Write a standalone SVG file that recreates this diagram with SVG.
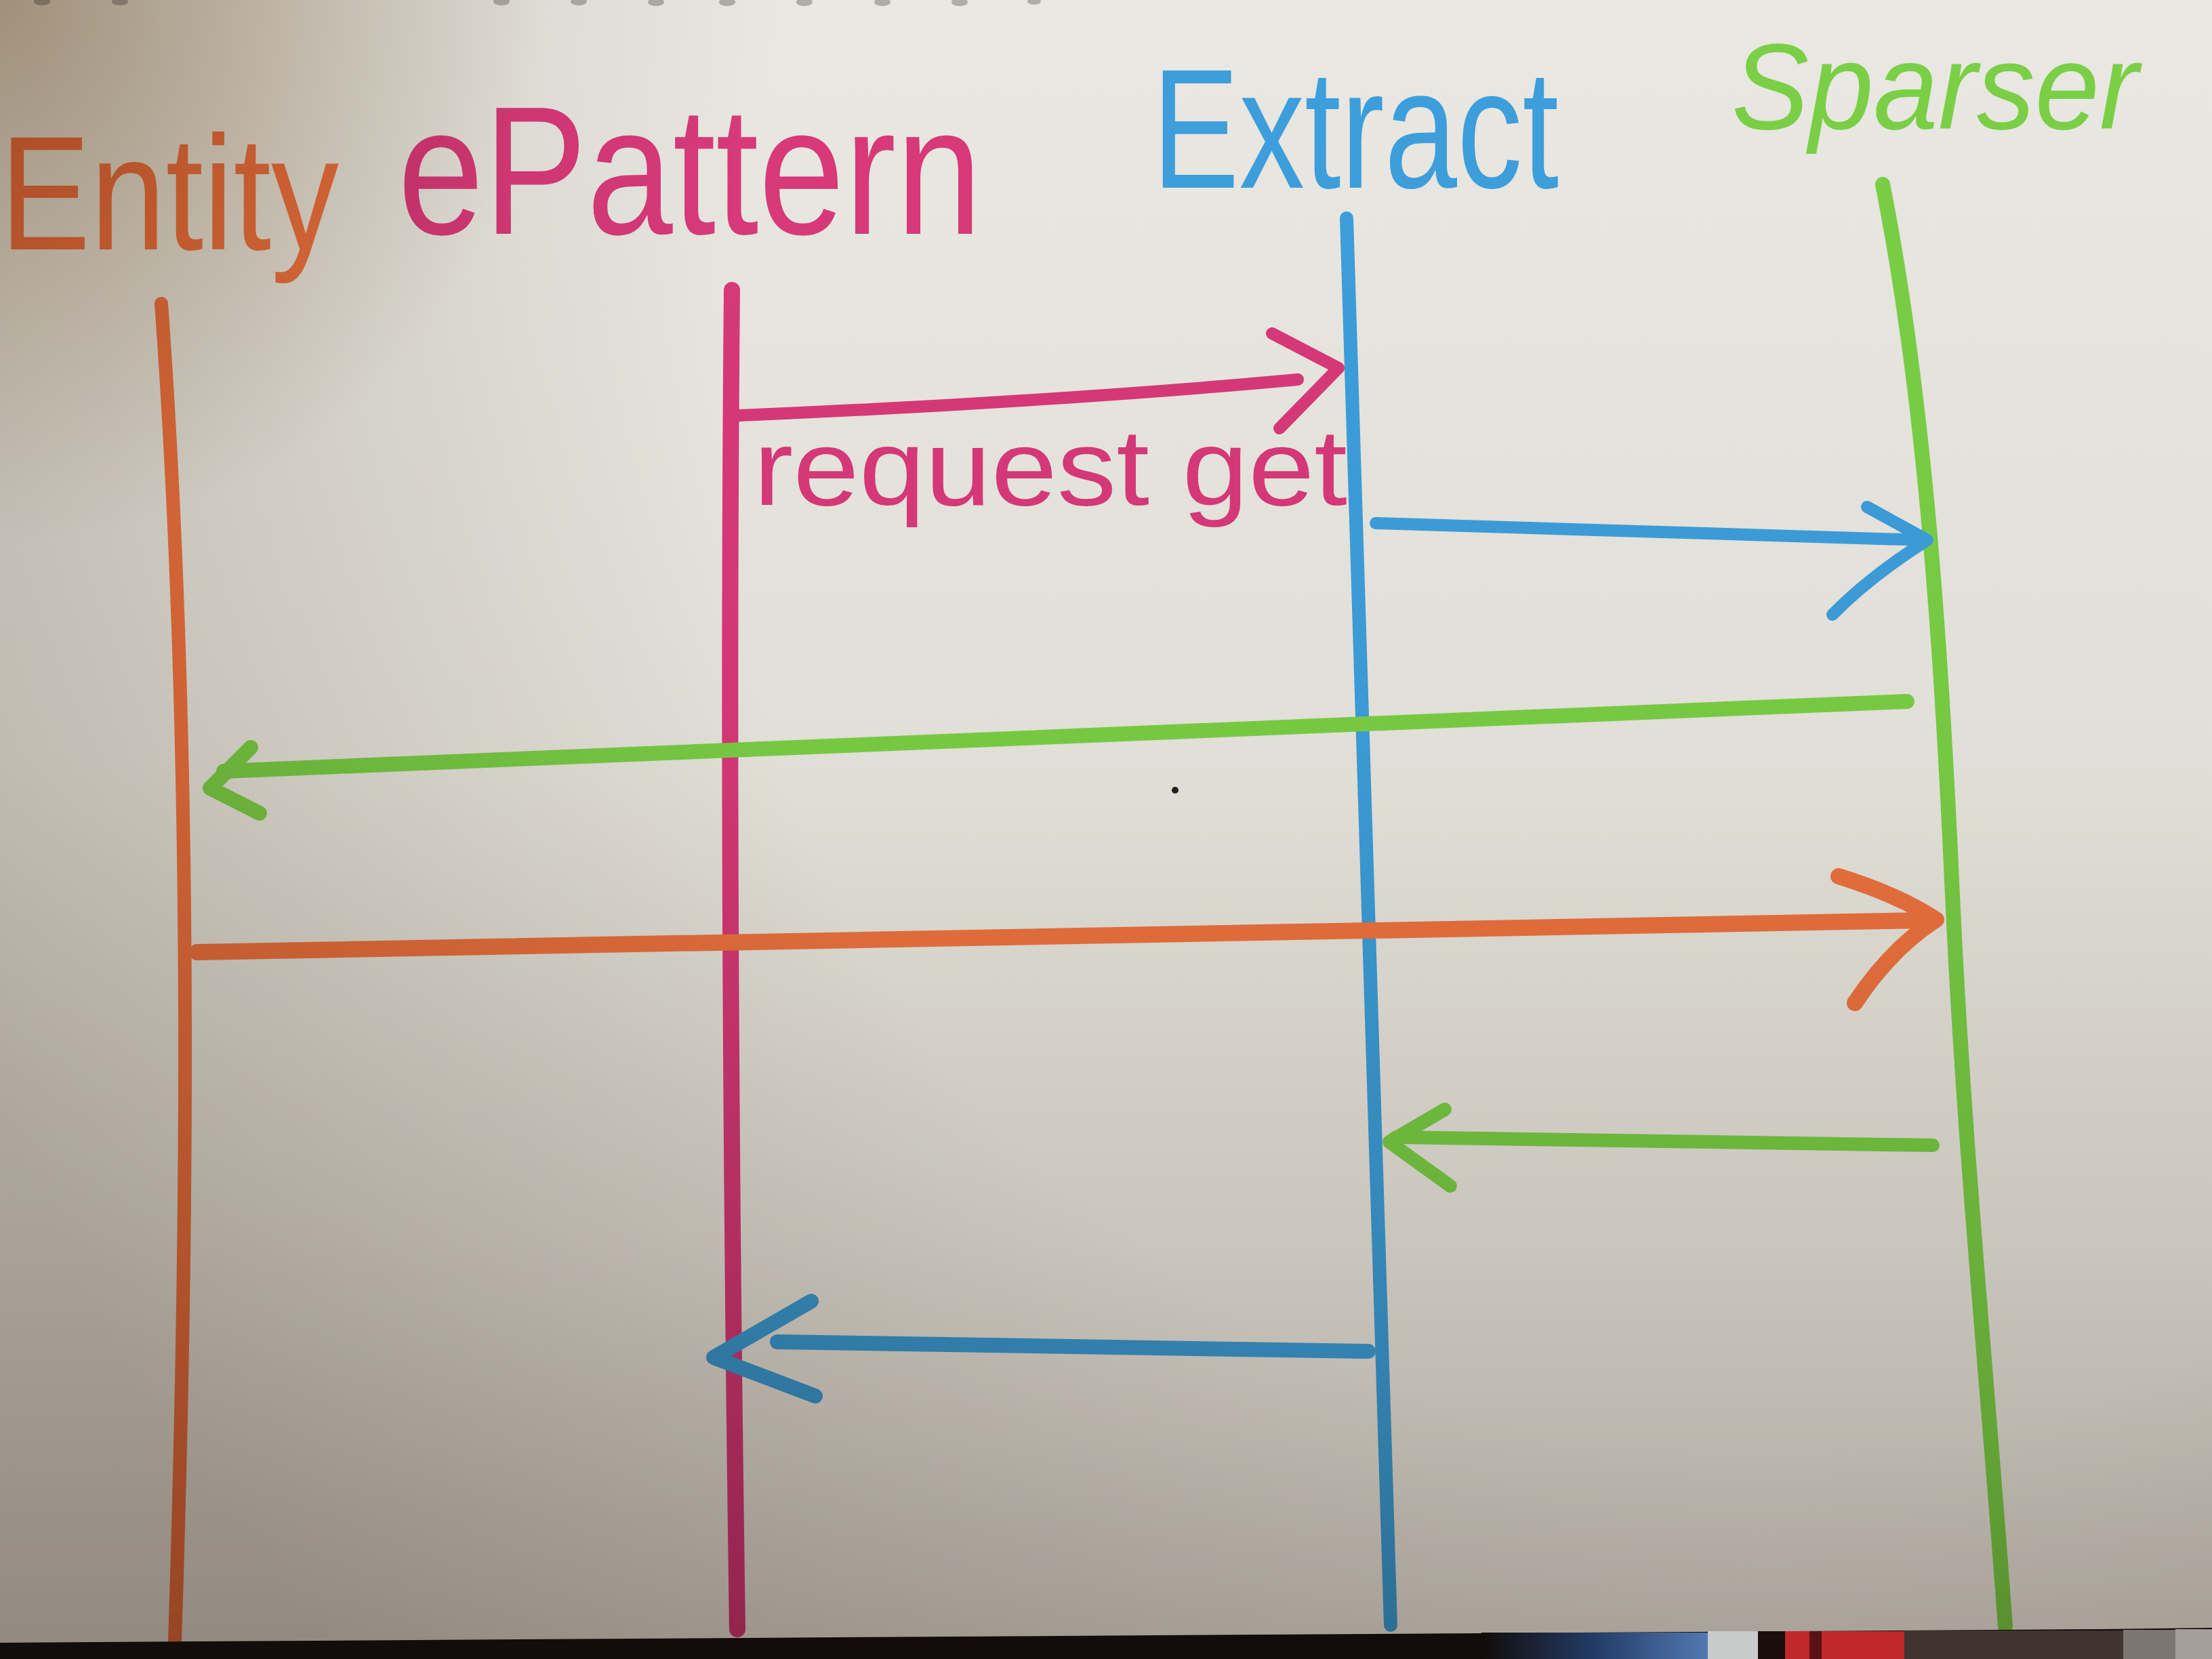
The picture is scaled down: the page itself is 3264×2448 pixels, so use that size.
<svg xmlns="http://www.w3.org/2000/svg" width="3264" height="2448" viewBox="0 0 3264 2448">
<defs>
  <linearGradient id="vshade" gradientUnits="userSpaceOnUse" x1="0" y1="0" x2="0" y2="2448">
    <stop offset="0" stop-color="#FFFFFF"/>
    <stop offset="0.45" stop-color="#F7F6F4"/>
    <stop offset="0.75" stop-color="#DDD9D5"/>
    <stop offset="1" stop-color="#BFB8B3"/>
  </linearGradient>
  <radialGradient id="light" gradientUnits="userSpaceOnUse" cx="2600" cy="600" r="2800">
    <stop offset="0" stop-color="#FFFFFF"/>
    <stop offset="0.55" stop-color="#FFFFFF"/>
    <stop offset="1" stop-color="#D6D1CC"/>
  </radialGradient>
  <radialGradient id="corner" gradientUnits="userSpaceOnUse" cx="0" cy="0" r="800">
    <stop offset="0" stop-color="#CDBEA9"/>
    <stop offset="1" stop-color="#FFFFFF"/>
  </radialGradient>
  <linearGradient id="objBlue" gradientUnits="userSpaceOnUse" x1="2186" y1="0" x2="2520" y2="0">
    <stop offset="0" stop-color="#120C0A"/>
    <stop offset="0.5" stop-color="#223C66"/>
    <stop offset="1" stop-color="#5279B2"/>
  </linearGradient>
</defs>
<style>
  .line{fill:none;stroke-linecap:round;stroke-linejoin:round}
  .orange{stroke:#EF7440}
  .pink{stroke:#D9397A}
  .blue{stroke:#3D9FDD}
  .green{stroke:#7AD046}
  .lbl{font-family:"Liberation Sans",Arial,sans-serif}
  .t-orange{fill:#EF7440}
  .t-pink{fill:#D9397A}
  .t-blue{fill:#3D9FDD}
  .t-green{fill:#7AD046}
  .hole{fill:#8A847E;opacity:0.6}
</style>

<rect x="0" y="0" width="3264" height="2448" fill="#E9E8E2"/>

<g id="binding-holes">
  <ellipse class="hole" cx="62" cy="2" rx="12" ry="6"/>
  <ellipse class="hole" cx="177" cy="2" rx="12" ry="6"/>
  <ellipse class="hole" cx="740" cy="2" rx="12" ry="6"/>
  <ellipse class="hole" cx="854" cy="2" rx="12" ry="6"/>
  <ellipse class="hole" cx="968" cy="3" rx="12" ry="6"/>
  <ellipse class="hole" cx="1073" cy="3" rx="12" ry="6"/>
  <ellipse class="hole" cx="1187" cy="3" rx="12" ry="6"/>
  <ellipse class="hole" cx="1302" cy="3" rx="12" ry="6"/>
  <ellipse class="hole" cx="1416" cy="3" rx="12" ry="6"/>
  <ellipse class="hole" cx="1526" cy="2" rx="10" ry="5"/>
</g>

<g id="node-entity">
  <text class="lbl t-orange" x="0" y="368" font-size="240" textLength="500" lengthAdjust="spacingAndGlyphs">Entity</text>
  <path class="line orange" stroke-width="20" d="M238,448 Q296,1250 258,2422"/>
</g>

<g id="node-epattern">
  <text class="lbl t-pink" x="587" y="345" font-size="270" textLength="862" lengthAdjust="spacingAndGlyphs">ePattern</text>
  <path class="line pink" stroke-width="24" d="M1080,428 Q1072,1300 1088,2404"/>
</g>

<g id="node-extract">
  <text class="lbl t-blue" x="1700" y="277" font-size="250" textLength="600" lengthAdjust="spacingAndGlyphs">Extract</text>
  <path class="line blue" stroke-width="20" d="M1987,322 L2052,2398"/>
</g>

<g id="node-sparser">
  <text class="lbl t-green" x="2555" y="190" font-size="180" font-style="italic" textLength="600" lengthAdjust="spacingAndGlyphs">Sparser</text>
  <path class="line green" stroke-width="22" d="M2778,272 C2835,560 2862,900 2880,1300 S2930,2000 2959,2400"/>
</g>

<g id="connectors">
  <g id="msg-request-get">
    <path class="line pink" stroke-width="18" d="M1091,613 C1400,600 1700,580 1915,560"/>
    <path class="line pink" stroke-width="18" d="M1877,492 L1975,543 L1888,632"/>
    <text class="lbl t-pink" x="1112" y="745" font-size="160" textLength="876" lengthAdjust="spacingAndGlyphs">request get</text>
  </g>
  <g id="msg-extract-sparser">
    <path class="line blue" stroke-width="18" d="M2030,772 L2840,797"/>
    <path class="line blue" stroke-width="18" d="M2755,748 L2844,797 Q2760,850 2704,907"/>
  </g>
  <g id="msg-sparser-entity">
    <path class="line green" stroke-width="22" d="M2814,1035 L330,1138"/>
    <path class="line green" stroke-width="22" d="M370,1103 L310,1163 L383,1200"/>
  </g>
  <g id="msg-entity-sparser">
    <path class="line orange" stroke-width="24" d="M291,1405 L2840,1358"/>
    <path class="line orange" stroke-width="24" d="M2713,1293 Q2800,1320 2857,1357 Q2790,1400 2737,1480"/>
  </g>
  <g id="msg-sparser-extract">
    <path class="line green" stroke-width="20" d="M2852,1690 L2060,1678"/>
    <path class="line green" stroke-width="20" d="M2132,1637 L2050,1685 L2140,1750"/>
  </g>
  <g id="msg-extract-epattern">
    <path class="line blue" stroke-width="22" d="M2019,1994 L1147,1980"/>
    <path class="line blue" stroke-width="22" d="M1197,1920 L1053,2003 L1203,2060"/>
  </g>
</g>

<circle cx="1734" cy="1166" r="5" fill="#222"/>

<rect x="0" y="0" width="3264" height="2448" fill="url(#vshade)" style="mix-blend-mode:multiply"/>
<rect x="0" y="0" width="3264" height="2448" fill="url(#light)" style="mix-blend-mode:multiply"/>
<rect x="0" y="0" width="3264" height="2448" fill="url(#corner)" style="mix-blend-mode:multiply"/>

<g id="photo-edge">
  <path d="M0,2424 L2186,2410 L3100,2404 L3264,2402 L3264,2448 L0,2448 Z" fill="#120C0A"/>
  <rect x="2186" y="2409" width="334" height="39" fill="url(#objBlue)"/>
  <rect x="2520" y="2407" width="74" height="41" fill="#C9CBCB"/>
  <rect x="2594" y="2407" width="40" height="41" fill="#1A0D0C"/>
  <rect x="2634" y="2407" width="176" height="41" fill="#C0282C"/>
  <rect x="2670" y="2407" width="18" height="41" fill="#5A1214"/>
  <rect x="2810" y="2406" width="323" height="42" fill="#3F342E"/>
  <rect x="3133" y="2405" width="77" height="43" fill="#7D756F"/>
  <rect x="3210" y="2404" width="54" height="44" fill="#A69F99"/>
</g>
</svg>
